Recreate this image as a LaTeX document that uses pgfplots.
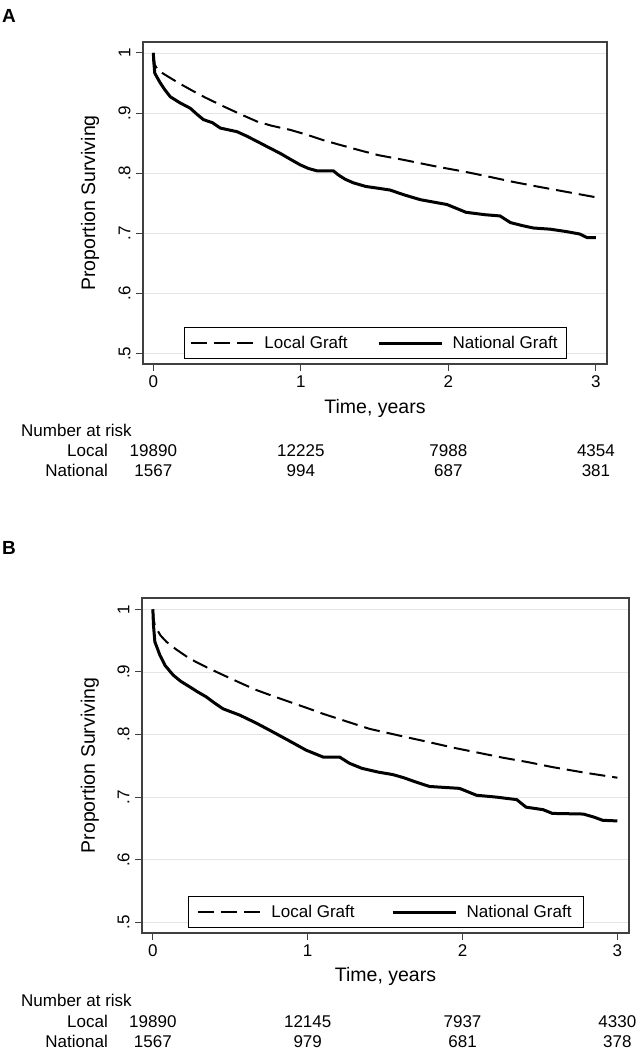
\documentclass[border=0pt]{standalone}
\usepackage{pgfplots}
\usepackage{pgfplotstable}
\pgfplotsset{compat=1.18}
\usepackage{fontspec}
\setmainfont{Liberation Sans}

\pgfplotstableread{
t v
0 1.000
0.005 0.990
0.01 0.980
0.03 0.972
0.07 0.965
0.137 0.955
0.2 0.946
0.273 0.936
0.35 0.926
0.476 0.911
0.6 0.897
0.702 0.886
0.8 0.879
0.928 0.872
1.04 0.864
1.15 0.855
1.266 0.847
1.4 0.838
1.525 0.830
1.7 0.822
1.92 0.811
2.1 0.803
2.26 0.795
2.43 0.786
2.6 0.778
2.8 0.769
3.0 0.760
}\localA

\pgfplotstableread{
t v
0 1.000
0.003 0.985
0.01 0.966
0.047 0.950
0.08 0.938
0.115 0.927
0.18 0.917
0.25 0.908
0.3 0.897
0.34 0.889
0.4 0.884
0.454 0.875
0.567 0.869
0.63 0.862
0.702 0.853
0.78 0.843
0.86 0.833
0.93 0.823
0.995 0.814
1.05 0.808
1.108 0.804
1.22 0.804
1.255 0.797
1.30 0.790
1.356 0.784
1.44 0.778
1.525 0.775
1.605 0.772
1.70 0.764
1.81 0.756
1.90 0.752
1.99 0.748
2.05 0.742
2.12 0.735
2.25 0.731
2.35 0.729
2.42 0.718
2.50 0.713
2.575 0.709
2.69 0.707
2.80 0.703
2.89 0.699
2.94 0.693
3.0 0.693
}\nationalA

\pgfplotstableread{
t v
0 1.000
0.005 0.985
0.012 0.975
0.024 0.969
0.05 0.958
0.088 0.948
0.15 0.936
0.239 0.921
0.35 0.907
0.454 0.895
0.56 0.883
0.669 0.871
0.78 0.861
0.884 0.852
1.0 0.842
1.10 0.833
1.25 0.821
1.40 0.809
1.615 0.797
1.78 0.788
1.94 0.779
2.1 0.771
2.26 0.763
2.42 0.756
2.58 0.748
2.79 0.739
3.0 0.731
}\localB

\pgfplotstableread{
t v
0 1.000
0.004 0.975
0.013 0.948
0.03 0.937
0.045 0.927
0.08 0.910
0.131 0.895
0.18 0.885
0.239 0.876
0.29 0.868
0.346 0.860
0.40 0.850
0.454 0.841
0.561 0.831
0.67 0.818
0.776 0.804
0.88 0.790
0.99 0.775
1.10 0.764
1.206 0.764
1.27 0.754
1.35 0.746
1.455 0.740
1.55 0.736
1.62 0.731
1.70 0.724
1.787 0.717
1.98 0.714
2.09 0.703
2.22 0.700
2.35 0.696
2.41 0.684
2.52 0.680
2.58 0.674
2.78 0.673
2.85 0.668
2.905 0.663
3.0 0.662
}\nationalB

\newcommand{\smallf}{\fontsize{17bp}{20bp}\selectfont}
\newcommand{\bigf}{\fontsize{19.5bp}{22bp}\selectfont}

\tikzset{risk/.style={font=\smallf, anchor=base}}

\pgfplotsset{
  kmstyle/.style={
    scale only axis, clip=false,
    xmin=-0.07, xmax=3.075, ymin=0.483, ymax=1.018,
    xtick={0,1,2,3},
    ytick={0.5,0.6,0.7,0.8,0.9,1},
    yticklabels={.5,.6,.7,.8,.9,1},
    tick pos=left, tick align=outside,
    major tick length=7bp,
    axis line style={black!75, line width=1.3bp},
    tick style={black!75, line width=1bp},
    ymajorgrids, grid style={black!10, line width=0.6bp},
    /pgf/number format/assume math mode=true,
    ticklabel style={font=\smallf},
    yticklabel style={rotate=90, anchor=south},
    yticklabel shift=2bp,
    xticklabel shift=1.5bp,
    label style={font=\bigf},
    xlabel={Time, years},
    ylabel={Proportion Surviving},
    legend columns=2,
    legend image code/.code={\draw[##1] (0bp,0bp) -- (63bp,0bp);},
    legend style={at={(0.5,0)}, yshift=5bp, anchor=south, draw=black, line width=0.8bp,
      font=\smallf, inner xsep=6bp, inner ysep=6bp,
      nodes={inner sep=2.5bp},
      /tikz/every odd column/.append style={column sep=7bp},
      /tikz/every even column/.append style={column sep=27bp}},
  },
  localline/.style={black, line width=2bp, dash pattern=on 16bp off 7bp},
  natline/.style={black, line width=3bp},
}

\begin{document}
\begin{tikzpicture}
\useasboundingbox (0,0) rectangle (640bp,-1050bp);

% Panel A
\node[font=\bfseries\fontsize{19bp}{21bp}\selectfont] at (9bp,-16bp) {A};
\begin{axis}[kmstyle,
  at={(143bp,-364bp)}, anchor=south west,
  width=464bp, height=322bp,
  xlabel style={at={(axis description cs:0.5,-0.137)}, anchor=center},
  ylabel style={at={(axis description cs:-0.114,0.5)}, anchor=center},
]
\addplot[localline] table[x=t,y=v] {\localA};
\addlegendentry{Local Graft}
\addplot[natline] table[x=t,y=v] {\nationalA};
\addlegendentry{National Graft}
\node[risk] at ([yshift=-92bp]axis cs:0,0.483) {19890};
\node[risk] at ([yshift=-92bp]axis cs:1,0.483) {12225};
\node[risk] at ([yshift=-92bp]axis cs:2,0.483) {7988};
\node[risk] at ([yshift=-92bp]axis cs:3,0.483) {4354};
\node[risk] at ([yshift=-112bp]axis cs:0,0.483) {1567};
\node[risk] at ([yshift=-112bp]axis cs:1,0.483) {994};
\node[risk] at ([yshift=-112bp]axis cs:2,0.483) {687};
\node[risk] at ([yshift=-112bp]axis cs:3,0.483) {381};
\end{axis}
\node[font=\smallf, anchor=base west, inner sep=0pt] at (21bp,-436bp) {Number at risk};
\node[font=\smallf, anchor=base east, inner sep=0pt] at (108bp,-456bp) {Local};
\node[font=\smallf, anchor=base east, inner sep=0pt] at (108bp,-476bp) {National};

% Panel B
\node[font=\bfseries\fontsize{19bp}{21bp}\selectfont] at (9bp,-548bp) {B};
\begin{axis}[kmstyle,
  at={(142bp,-933bp)}, anchor=south west,
  width=487bp, height=335bp,
  xlabel style={at={(axis description cs:0.5,-0.131)}, anchor=center},
  ylabel style={at={(axis description cs:-0.107,0.5)}, anchor=center},
  legend style={inner xsep=9bp, /tikz/every even column/.append style={column sep=34bp}},
]
\addplot[localline] table[x=t,y=v] {\localB};
\addlegendentry{Local Graft}
\addplot[natline] table[x=t,y=v] {\nationalB};
\addlegendentry{National Graft}
\node[risk] at ([yshift=-94bp]axis cs:0,0.483) {19890};
\node[risk] at ([yshift=-94bp]axis cs:1,0.483) {12145};
\node[risk] at ([yshift=-94bp]axis cs:2,0.483) {7937};
\node[risk] at ([yshift=-94bp]axis cs:3,0.483) {4330};
\node[risk] at ([yshift=-114bp]axis cs:0,0.483) {1567};
\node[risk] at ([yshift=-114bp]axis cs:1,0.483) {979};
\node[risk] at ([yshift=-114bp]axis cs:2,0.483) {681};
\node[risk] at ([yshift=-114bp]axis cs:3,0.483) {378};
\end{axis}
\node[font=\smallf, anchor=base west, inner sep=0pt] at (21bp,-1006bp) {Number at risk};
\node[font=\smallf, anchor=base east, inner sep=0pt] at (108bp,-1027bp) {Local};
\node[font=\smallf, anchor=base east, inner sep=0pt] at (108bp,-1047bp) {National};
\end{tikzpicture}
\end{document}
